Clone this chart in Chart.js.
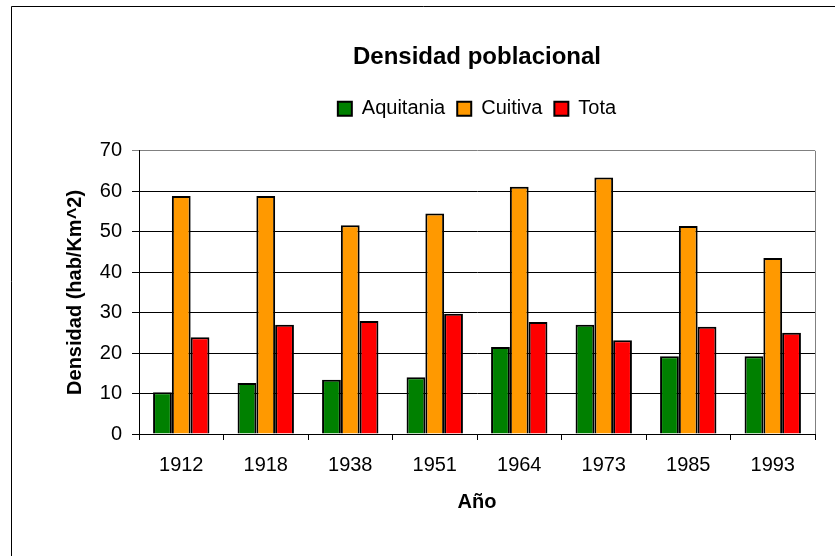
<!DOCTYPE html>
<html lang="es">
<head>
    <meta charset="UTF-8">
    <title>Densidad poblacional</title>
    <script src="https://cdn.jsdelivr.net/npm/chart.js"></script>
    <style>
        html, body { margin: 0; padding: 0; background: #fff; }
        #wrap { width: 835px; height: 556px; }
    </style>
</head>
<body>
    <div id="wrap"><canvas id="densChart" width="835" height="556"></canvas></div>

    <script>
        // Datos
        const anios = ['1912', '1918', '1938', '1951', '1964', '1973', '1985', '1993'];
        const aquitania = [10.3, 12.6, 13.4, 14.0, 21.5, 27.0, 19.2, 19.2];
        const cuitiva = [58.8, 58.8, 51.6, 54.5, 61.1, 63.4, 51.4, 43.5];
        const tota = [23.9, 27.0, 27.9, 29.7, 27.7, 23.2, 26.5, 25.0];
        const yTicks = [0, 10, 20, 30, 40, 50, 60, 70];

        const fuente = "'Liberation Sans', Arial, sans-serif";
        Chart.defaults.font.family = fuente;
        Chart.defaults.color = '#000';

        // Marco exterior y borde derecho del área de trazado
        const marco = {
            id: 'marco',
            afterDraw(chart) {
                const ctx = chart.ctx;
                const a = chart.chartArea;
                ctx.save();
                ctx.strokeStyle = '#808080';
                ctx.lineWidth = 1;
                ctx.beginPath();
                ctx.moveTo(a.right + 0.5, a.top);
                ctx.lineTo(a.right + 0.5, a.bottom);
                ctx.stroke();
                ctx.strokeStyle = '#000';
                ctx.beginPath();
                ctx.moveTo(11.5, chart.height);
                ctx.lineTo(11.5, 6.5);
                ctx.lineTo(chart.width, 6.5);
                ctx.stroke();
                ctx.restore();
            }
        };

        const fondo = {
            id: 'fondo',
            beforeDraw(chart) {
                const ctx = chart.ctx;
                ctx.save();
                ctx.fillStyle = '#fff';
                ctx.fillRect(0, 0, chart.width, chart.height);
                ctx.restore();
            }
        };

        // Espacio extra bajo la leyenda (antes del área de trazado)
        const espacioLeyenda = {
            id: 'espacioLeyenda',
            beforeLayout(chart) {
                const leg = chart.legend;
                if (leg && !leg._conEspacio) {
                    const fitOriginal = leg.fit;
                    leg.fit = function () {
                        fitOriginal.call(this);
                        this.height += 22;
                    };
                    leg._conEspacio = true;
                }
            }
        };

        const ctx = document.getElementById('densChart').getContext('2d');
        new Chart(ctx, {
            type: 'bar',
            data: {
                labels: anios,
                datasets: [
                    { label: 'Aquitania', data: aquitania, backgroundColor: '#008000' },
                    { label: 'Cuitiva', data: cuitiva, backgroundColor: '#FF9900' },
                    { label: 'Tota', data: tota, backgroundColor: '#FF0000' }
                ]
            },
            options: {
                responsive: false,
                devicePixelRatio: 1,
                animation: false,
                layout: { padding: { top: 0, left: 0, right: 20, bottom: 0 } },
                datasets: {
                    bar: {
                        borderColor: '#000',
                        borderWidth: 2,
                        categoryPercentage: 0.667,
                        barPercentage: 1.0
                    }
                },
                plugins: {
                    title: {
                        display: true,
                        fullSize: false,
                        text: 'Densidad poblacional',
                        font: { size: 24, weight: 'bold' },
                        padding: { top: 43, bottom: 15 }
                    },
                    legend: {
                        display: true,
                        fullSize: false,
                        labels: {
                            font: { size: 20 },
                            boxWidth: 14,
                            boxHeight: 14,
                            padding: 12
                        }
                    },
                    tooltip: { enabled: false }
                },
                scales: {
                    x: {
                        grid: {
                            drawOnChartArea: false,
                            offset: true,
                            tickLength: 6,
                            color: '#000'
                        },
                        border: { color: '#000', width: 1 },
                        ticks: { font: { size: 20 }, padding: 13, maxRotation: 0 },
                        title: {
                            display: true,
                            text: 'Año',
                            font: { size: 20, weight: 'bold' },
                            padding: { top: 0, bottom: 42 }
                        },
                        afterFit(scale) { scale.height = 122; }
                    },
                    y: {
                        min: 0,
                        max: 70,
                        afterBuildTicks(scale) {
                            scale.ticks = yTicks.map(v => ({ value: v }));
                        },
                        grid: {
                            color: c => (c.tick && c.tick.value === 70) ? '#808080' : '#000',
                            tickLength: 7
                        },
                        border: { color: '#000', width: 1 },
                        ticks: { font: { size: 20 }, padding: 10 },
                        title: {
                            display: true,
                            text: 'Densidad (hab/Km^2)',
                            font: { size: 20, weight: 'bold' },
                            padding: { top: 63, bottom: 0 }
                        },
                        afterFit(scale) { scale.width = 139; }
                    }
                }
            },
            plugins: [fondo, marco, espacioLeyenda]
        });
    </script>
</body>
</html>
